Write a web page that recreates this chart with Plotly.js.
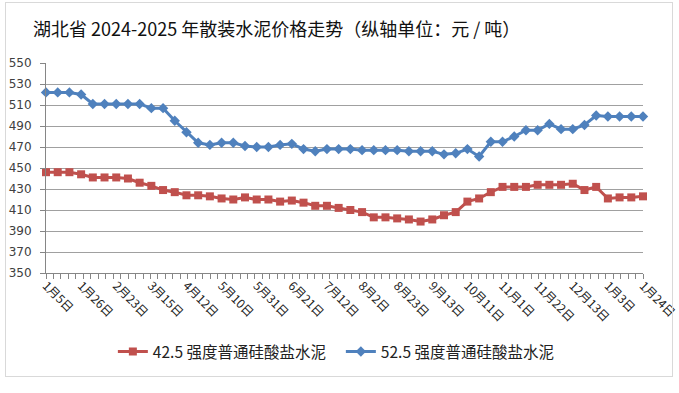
<!DOCTYPE html>
<html>
<head>
<meta charset="utf-8">
<script src="https://cdn.plot.ly/plotly-3.0.1.min.js"></script>
<style>
html,body{margin:0;padding:0;background:#fff;}
#wrap{position:relative;width:679px;height:393px;overflow:hidden;}
#chart{width:679px;height:393px;}
#frame{position:absolute;left:5px;top:2px;width:666px;height:373px;border:1px solid #d9d9d9;pointer-events:none;}
</style>
</head>
<body>
<div id="wrap"><div id="chart"></div><div id="frame"></div></div>
<script>
// Weekly report dates (2024-2025)
const categories = [
  "1月5日","1月12日","1月19日","1月26日","2月2日","2月16日","2月23日","3月1日","3月8日",
  "3月15日","3月22日","3月29日","4月12日","4月19日","4月26日","5月10日","5月17日","5月24日",
  "5月31日","6月7日","6月14日","6月21日","6月28日","7月5日","7月12日","7月19日","7月26日",
  "8月2日","8月9日","8月16日","8月23日","8月30日","9月6日","9月13日","9月20日","9月27日",
  "10月11日","10月18日","10月25日","11月1日","11月8日","11月15日","11月22日","11月29日","12月6日",
  "12月13日","12月20日","12月27日","1月3日","1月10日","1月17日","1月24日"
];
const seriesNames = ["42.5 强度普通硅酸盐水泥", "52.5 强度普通硅酸盐水泥"];
const price425 = [
  446,446,446,444,441,441,441,440,436,433,429,427,424,424,423,421,420,422,
  420,420,418,419,417,414,414,412,410,408,403,403,402,401,399,401,405,408,
  418,421,427,432,432,432,434,434,434,435,429,432,421,422,422,423
];
const price525 = [
  522,522,522,520,511,511,511,511,511,507,507,495,484,474,472,474,474,471,
  470,470,472,473,468,466,468,468,468,467,467,467,467,466,466,466,463,464,
  468,461,475,475,480,486,486,492,487,487,491,500,499,499,499,499
];
const titleText = "湖北省 2024-2025 年散装水泥价格走势（纵轴单位：元 / 吨）";
const yTicks = [350,370,390,410,430,450,470,490,510,530,550];

const xIdx = categories.map((c, i) => i);
const labelIdx = xIdx.filter(i => i % 3 === 0);

const traces = [
  {
    x: xIdx, y: price425, name: seriesNames[0], type: "scatter", mode: "lines+markers",
    line: {color: "#c0504d", width: 3},
    marker: {symbol: "square", size: 8, color: "#c0504d"},
    cliponaxis: false
  },
  {
    x: xIdx, y: price525, name: seriesNames[1], type: "scatter", mode: "lines+markers",
    line: {color: "#4f81bd", width: 3},
    marker: {symbol: "diamond", size: 8, color: "#4f81bd"},
    cliponaxis: false
  }
];

const layout = {
  width: 679, height: 393,
  margin: {l: 46, r: 36, t: 63, b: 120},
  paper_bgcolor: "#ffffff", plot_bgcolor: "#ffffff",
  font: {family: "'Noto Sans CJK SC', 'DejaVu Sans', sans-serif", color: "#333"},
  title: {
    text: titleText,
    x: 33/679, xanchor: "left", xref: "container",
    y: 1 - 30/393, yanchor: "middle", yref: "container",
    font: {family: "'Noto Sans CJK SC', sans-serif", size: 18, color: "#111"}
  },
  showlegend: true,
  legend: {
    orientation: "h", x: 0.112, xanchor: "left", y: -0.376, yanchor: "middle",
    font: {family: "'Noto Sans CJK SC', 'DejaVu Sans', sans-serif", size: 15.5, color: "#222"},
    bgcolor: "rgba(0,0,0,0)", itemwidth: 30, entrywidth: 183
  },
  xaxis: {
    type: "linear",
    range: [0, categories.length - 1],
    tickmode: "array",
    tickvals: labelIdx,
    ticktext: labelIdx.map(i => categories[i]),
    tickangle: 45,
    ticks: "",
    ticklabeloverflow: "allow",
    showgrid: false, zeroline: false,
    showline: true, linecolor: "#868686", linewidth: 1,
    tickfont: {family: "'Noto Sans CJK SC', sans-serif", size: 12, color: "#222"},
    minor: {ticks: "outside", ticklen: 5, tickcolor: "#868686", tick0: 0, dtick: 51/80, showgrid: false}
  },
  yaxis: {
    range: [350, 550],
    tickmode: "array", tickvals: yTicks,
    ticks: "outside", ticklen: 5, tickcolor: "#868686",
    ticklabelstandoff: 6,
    showgrid: true, gridcolor: "#a0a0a0", gridwidth: 1,
    zeroline: false, showline: true, linecolor: "#868686", linewidth: 1,
    tickfont: {family: "'DejaVu Sans', sans-serif", size: 12, color: "#404040"}
  }
};

Plotly.newPlot("chart", traces, layout, {staticPlot: true, displayModeBar: false});
</script>
</body>
</html>
